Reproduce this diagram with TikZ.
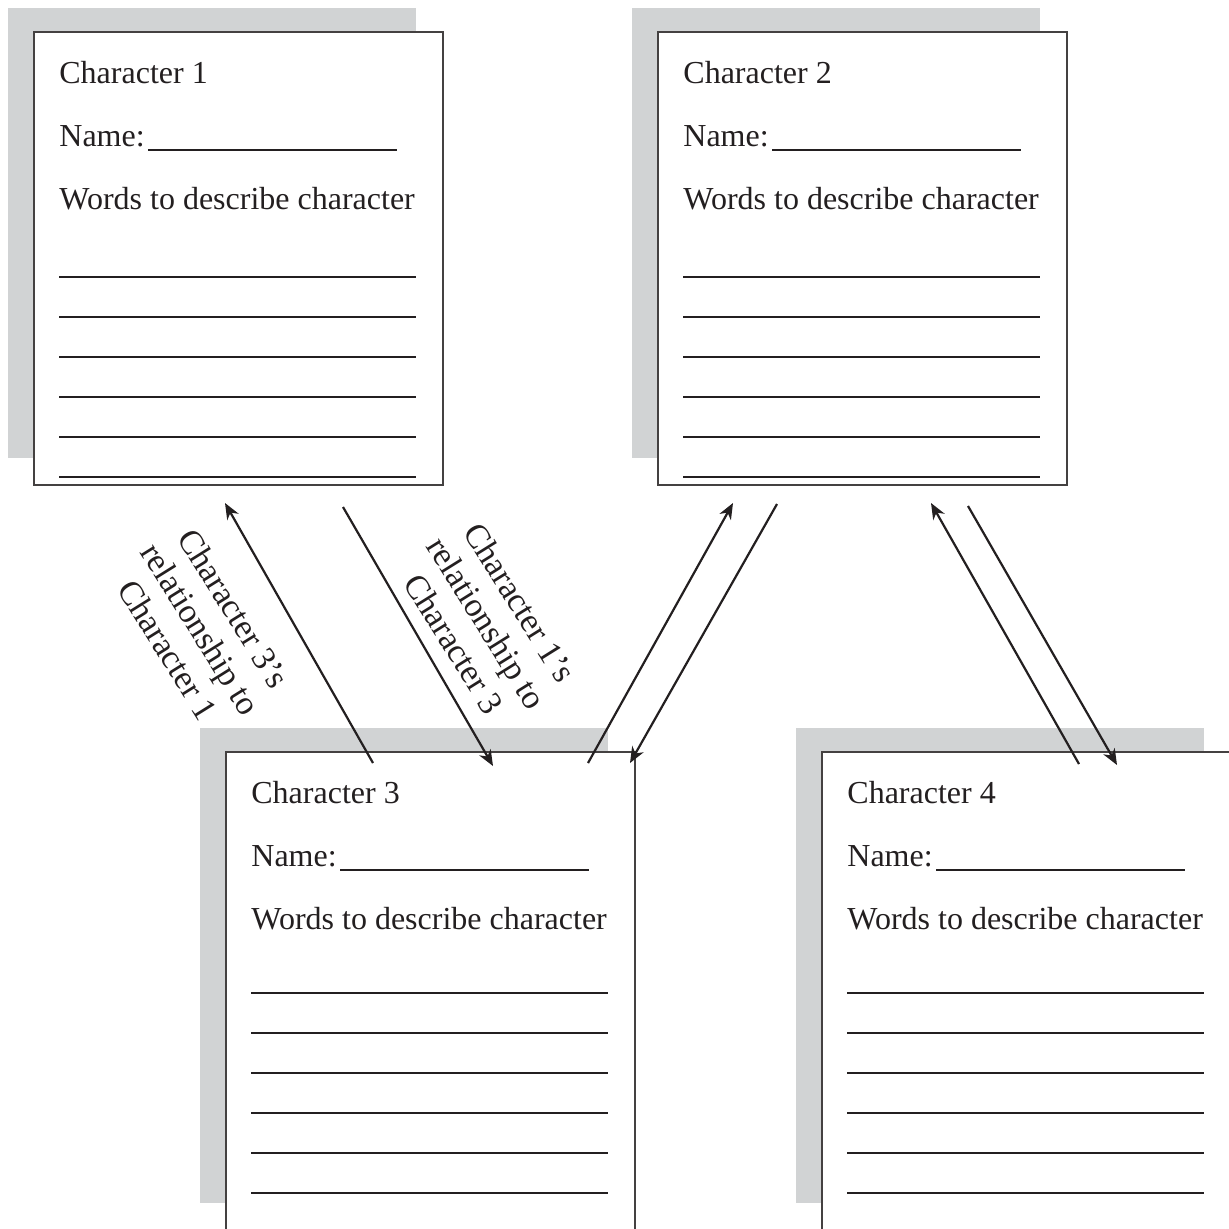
\documentclass[tikz,border=0pt]{standalone}
\usepackage{fontspec}
\setmainfont{Liberation Serif}
\usetikzlibrary{arrows.meta,calc}
\definecolor{cardshadow}{HTML}{D1D3D4}
\definecolor{ink}{HTML}{231F20}
\begin{document}
\begin{tikzpicture}[x=0.5pt,y=-0.5pt,
  card/.style={draw=ink!85, line width=0.75pt, fill=white, anchor=north west,
    minimum width=204.5pt, inner sep=0pt, outer sep=0pt},
  rule/.style={draw=ink, line width=0.75pt},
  cardtext/.style={anchor=base west, inner sep=0pt,
    font=\fontsize{16pt}{19pt}\selectfont, text=ink},
  relation/.style={font=\fontsize{17pt}{19.5pt}\selectfont, align=center,
    rotate=-58, text=ink, inner sep=0pt},
  link/.style={draw=ink, line width=1.1pt,
    -{Stealth[length=8pt,width=6.5pt,inset=2.5pt]}}]
\useasboundingbox (0,0) rectangle (1229,1228);
\clip (0,0) rectangle (1229,1228);

% character cards: number / left / top / shadow height / card height / first rule
\foreach \n/\px/\py/\sh/\bh/\rs in
  {1/34/32/450/453/245, 2/658/32/450/453/245,
   3/226/752/475/540/241, 4/822/752/475/540/241} {
  \fill[cardshadow] (\px-26,\py-24) rectangle ++(408,\sh);
  \node[card, minimum height=\bh*0.5pt] (c\n) at (\px,\py) {};
  \node[cardtext] (t\n) at ($(c\n.north west)+(25,51)$) {Character \n};
  \node[cardtext] (n\n) at ($(c\n.north west)+(25,114)$) {Name:};
  \draw[rule] ($(c\n.north west)+(114,118)$) -- ++(249,0);
  \node[cardtext] (w\n) at ($(c\n.north west)+(25,177)$) {Words to describe character};
  \foreach \k in {0,...,5}
    \draw[rule] ($(c\n.north west)+(25,\rs+\k*40)$) -- ++(357,0);
}

% relationship labels
\node[relation] (r31) at (201,629) {Character 3's\\relationship to\\Character 1};
\node[relation] (r13) at (487,623) {Character 1's\\relationship to\\Character 3};

% connector ends
\coordinate (p31) at (373,763); \coordinate (q31) at (225,503);
\coordinate (p13) at (343,507); \coordinate (q13) at (493,766);
\coordinate (p32) at (588,763); \coordinate (q32) at (733,503);
\coordinate (p23) at (777,504); \coordinate (q23) at (630,763);
\coordinate (p42) at (1079,764); \coordinate (q42) at (931,503);
\coordinate (p24) at (968,506); \coordinate (q24) at (1117,765);

\draw[link] (p31) -- (q31);
\draw[link] (p13) -- (q13);
\draw[link] (p32) -- (q32);
\draw[link] (p23) -- (q23);
\draw[link] (p42) -- (q42);
\draw[link] (p24) -- (q24);
\end{tikzpicture}
\end{document}
